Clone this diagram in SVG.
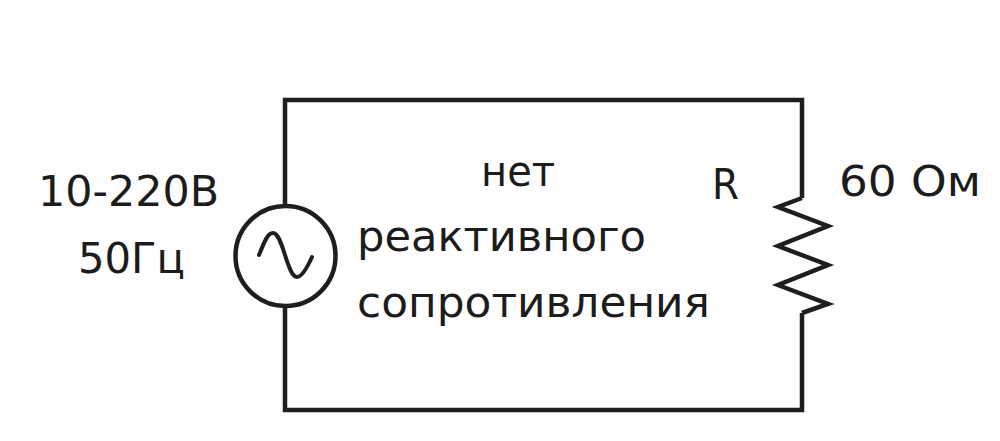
<svg xmlns="http://www.w3.org/2000/svg" width="1000" height="441" viewBox="0 0 1000 441">
<style>
.w{fill:none;stroke:#1e1e1e;stroke-width:4.5;stroke-linejoin:miter}
.s{stroke-width:4;stroke-linecap:round;stroke-linejoin:round}
text{font-family:"DejaVu Sans","Liberation Sans",sans-serif;font-size:42px;fill:#1c1c1c}
</style>
<rect width="1000" height="441" fill="#fff"/>
<g id="connectors">
<path class="w" d="M285 205V100H802V198"/>
<path class="w" d="M285 307V410H802V313"/>
</g>
<g id="source">
<circle class="w" cx="285.500" cy="256" r="50"/>
<path class="w s" d="M259 255C265 240 268 233 273 233C283 233 287 277 297 277C302 277 307 268 312 257"/>
<text x="38" y="206" textLength="181" lengthAdjust="spacingAndGlyphs">10-220В</text>
<text x="78" y="273" textLength="107" lengthAdjust="spacingAndGlyphs">50Гц</text>
</g>
<g id="resistor">
<path class="w" d="M802 198L778 207L828 226L778 246L828 265L778 285L828 304L802 313"/>
<text x="712" y="199" textLength="27" lengthAdjust="spacingAndGlyphs">R</text>
<text x="839" y="196" textLength="142" lengthAdjust="spacingAndGlyphs">60 Ом</text>
</g>
<g id="note">
<text x="481" y="186" textLength="74" lengthAdjust="spacingAndGlyphs">нет</text>
<text x="357" y="251" textLength="289" lengthAdjust="spacingAndGlyphs">реактивного</text>
<text x="357" y="317" textLength="353" lengthAdjust="spacingAndGlyphs">сопротивления</text>
</g>
</svg>
